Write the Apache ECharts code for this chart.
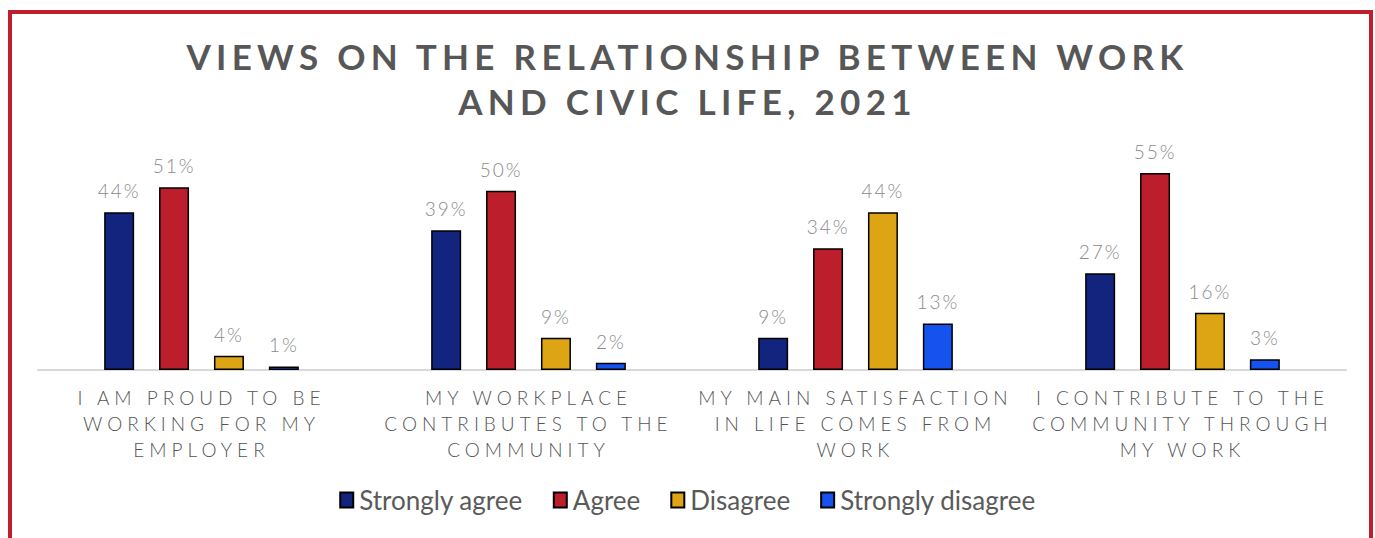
<!DOCTYPE html>
<html><head><meta charset="utf-8">
<script src="https://cdn.jsdelivr.net/npm/echarts@6/dist/echarts.min.js"></script>
<style>html,body{margin:0;padding:0;background:#fff}#c{width:1375px;height:538px}</style>
</head><body><div id="c"></div>
<script>
var categories = [
  "I AM PROUD TO BE\nWORKING FOR MY\nEMPLOYER",
  "MY WORKPLACE\nCONTRIBUTES TO THE\nCOMMUNITY",
  "MY MAIN SATISFACTION\nIN LIFE COMES FROM\nWORK",
  "I CONTRIBUTE TO THE\nCOMMUNITY THROUGH\nMY WORK"
];
var seriesNames = ["Strongly agree", "Agree", "Disagree", "Strongly disagree"];
var stronglyAgree = [44, 39, 9, 27];
var agree = [51, 50, 34, 55];
var disagree = [4, 9, 44, 16];
var stronglyDisagree = [1, 2, 13, 3];
var colors = ["#13247f", "#bc1f2b", "#dda413", "#1552ee"];
var values = [stronglyAgree, agree, disagree, stronglyDisagree];
var titleText = "VIEWS ON THE RELATIONSHIP BETWEEN WORK\nAND CIVIC LIFE, 2021";

var chart = echarts.init(document.getElementById('c'), null, { renderer: 'svg' });
chart.setOption({
  animation: false,
  title: {
    text: titleText,
    left: 'center', top: 28,
    textStyle: { fontFamily: 'Lato', fontWeight: 'bold', fontSize: 35, color: '#575757', lineHeight: 45 }
  },
  legend: {
    bottom: 20, left: 'center',
    itemWidth: 13, itemHeight: 15, itemGap: 30,
    icon: 'rect',
    textStyle: { fontFamily: 'Lato', fontSize: 26, color: '#5a5a5a', padding: [0, 0, 0, 1] },
    data: seriesNames
  },
  grid: { left: 38, right: 29, top: 155, bottom: 168 },
  xAxis: {
    type: 'category', data: categories,
    axisTick: { show: false },
    axisLine: { lineStyle: { color: '#d9d9d9', width: 2 } },
    axisLabel: { fontFamily: 'Lato', fontWeight: 300, fontSize: 19, color: '#555555', lineHeight: 26, margin: 14, interval: 0 }
  },
  yAxis: { type: 'value', min: 0, max: 60, show: false, splitLine: { show: false } },
  series: seriesNames.map(function (n, i) {
    return {
      name: n, type: 'bar', data: values[i],
      barWidth: 30, barGap: '83%', barCategoryGap: '40%',
      itemStyle: { color: colors[i], borderColor: '#000', borderWidth: 1.5 },
      label: { show: true, position: 'top', distance: 12, formatter: '{c}%', fontFamily: 'Lato', fontWeight: 300, fontSize: 19, color: '#8a8a8a' }
    };
  }),
  graphic: [{
    type: 'rect', silent: true, z: 100,
    shape: { x: 10, y: 12, width: 1361, height: 530 },
    style: { fill: 'none', stroke: '#be1e2d', lineWidth: 4 }
  }]
});

function applySpacing() {
  var titleLines = titleText.split('\n');
  var catLines = [];
  categories.forEach(function (c) { catLines = catLines.concat(c.split('\n')); });
  var texts = document.querySelectorAll('#c svg text');
  texts.forEach(function (t) {
    var s = (t.textContent || '').trim();
    var sp = null;
    if (titleLines.indexOf(s) >= 0) sp = 5.3;
    else if (catLines.indexOf(s) >= 0) sp = 5;
    else if (/^\d+%$/.test(s)) sp = 2;
    if (sp !== null) t.setAttribute('letter-spacing', sp + 'px');
  });
}
applySpacing();
chart.on('finished', applySpacing);
setTimeout(applySpacing, 50);
</script></body></html>
